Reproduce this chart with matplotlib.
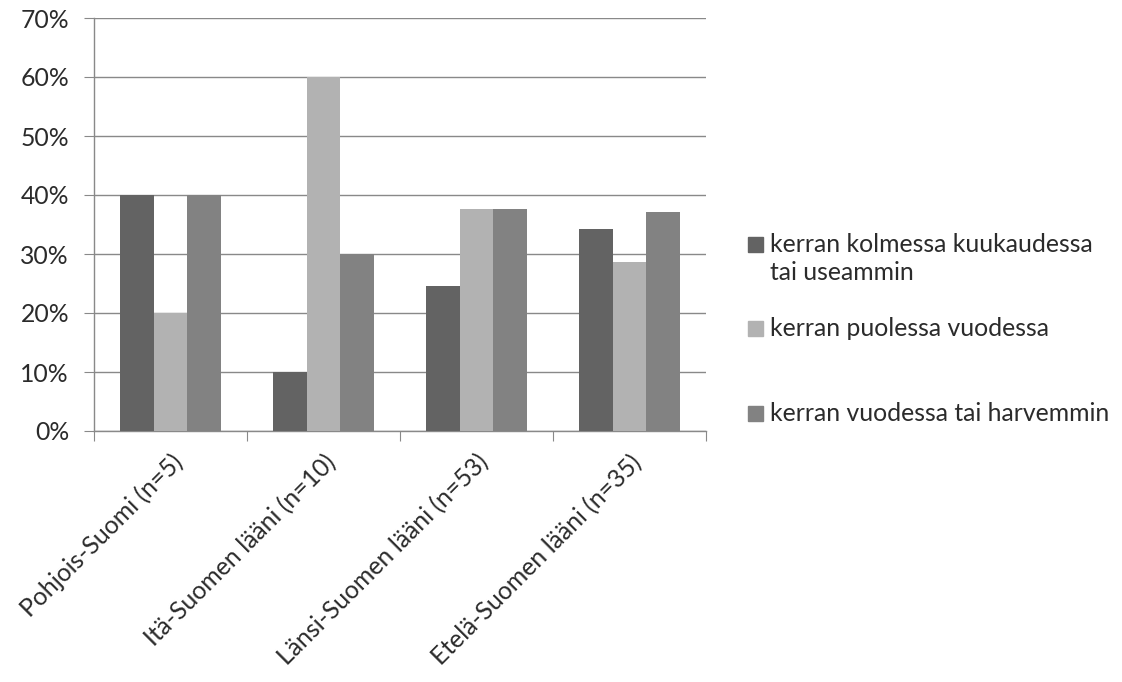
import matplotlib
matplotlib.use("Agg")
import matplotlib.pyplot as plt
from matplotlib.patches import Rectangle
import numpy as np

categories = ["Pohjois-Suomi (n=5)", "Itä-Suomen lääni (n=10)",
              "Länsi-Suomen lääni (n=53)", "Etelä-Suomen lääni (n=35)"]
series_names = ["kerran kolmessa kuukaudessa\ntai useammin",
                "kerran puolessa vuodessa",
                "kerran vuodessa tai harvemmin"]
kolmessa_kk = [40.0, 10.0, 24.5, 34.3]
puolessa_v = [20.0, 60.0, 37.7, 28.6]
vuodessa = [40.0, 30.0, 37.7, 37.1]
y_ticks = [0, 10, 20, 30, 40, 50, 60, 70]

values = [kolmessa_kk, puolessa_v, vuodessa]
colors = ["#636363", "#b2b2b2", "#828282"]
grid_c = "#898989"
text_c = "#2b2b2b"
fs = 17.8

plt.rcParams["font.family"] = ["Lato", "DejaVu Sans"]

W, H = 1122, 682
fig = plt.figure(figsize=(W / 100, H / 100), dpi=100)
ax = fig.add_axes([94 / W, 1 - 431 / H, (706 - 94) / W, (431 - 18) / H])

x = np.arange(len(categories))
bw = 0.22
for i, (vals, c) in enumerate(zip(values, colors)):
    ax.bar(x + (i - 1) * bw, vals, width=bw, color=c, zorder=3, linewidth=0)

ax.set_xlim(-0.5, len(categories) - 0.5)
ax.set_ylim(0, 70)
ax.set_yticks(y_ticks)
ax.set_yticklabels([f"{v}%" for v in y_ticks], fontsize=fs, color=text_c)
ax.yaxis.grid(True, color=grid_c, linewidth=1, zorder=0)
ax.set_axisbelow(True)

# category boundaries carry the tick marks; labels sit at group centers
ax.set_xticks(np.arange(len(categories) + 1) - 0.5)
ax.set_xticklabels([])
ax.set_xticks(x, minor=True)
ax.set_xticklabels(categories, minor=True, rotation=45, ha="right",
                   rotation_mode="anchor", fontsize=fs, color=text_c)
ax.tick_params(axis="x", which="minor", length=0, pad=14)
ax.tick_params(axis="x", which="major", length=7, color=grid_c, direction="out")
ax.tick_params(axis="y", length=7, color=grid_c, direction="out", pad=11)

for side in ["top", "right"]:
    ax.spines[side].set_visible(False)
for side in ["left", "bottom"]:
    ax.spines[side].set_color(grid_c)
    ax.spines[side].set_linewidth(1)

# legend drawn at the right of the plot area: square sits on the first baseline
legend_baselines = [252, 336, 421]
line_step = 27.5
for name, c, yb in zip(series_names, colors, legend_baselines):
    fig.patches.append(Rectangle((748 / W, 1 - yb / H), 15 / W, 15 / H,
                                 transform=fig.transFigure, color=c))
    for k, line in enumerate(name.split("\n")):
        fig.text(770 / W, 1 - (yb + k * line_step) / H, line, fontsize=fs,
                 color=text_c, va="baseline", ha="left")

fig.savefig("out.png", dpi=100, facecolor="white")
